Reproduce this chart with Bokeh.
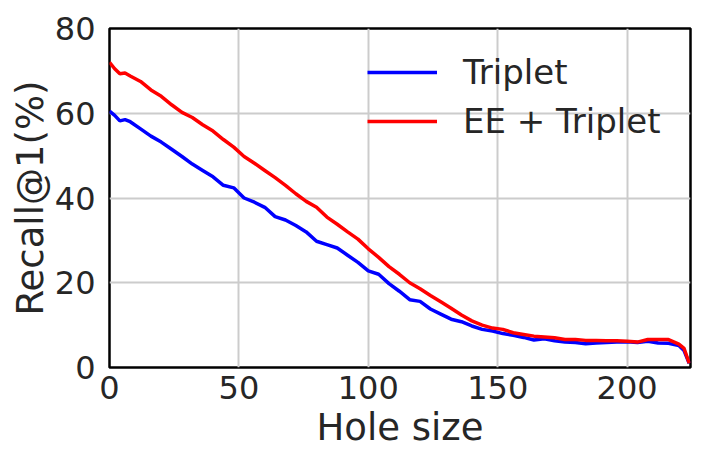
from bokeh.plotting import figure
from bokeh.models import Legend, LegendItem, FixedTicker, Range1d
from bokeh.embed import file_html
from bokeh.resources import INLINE

hole_size = [0, 2, 4, 6, 8, 12, 16, 20, 24, 28, 32, 36, 40, 44, 48, 52, 56, 60, 64, 68,
             72, 76, 80, 84, 88, 92, 96, 100, 104, 108, 112, 116, 120, 124, 128, 132, 136,
             140, 144, 148, 152, 156, 160, 164, 168, 172, 176, 180, 184, 188, 192, 196,
             200, 204, 208, 212, 216, 220, 222, 224]

triplet = [60.5, 59.5, 58.2, 58.5, 58.0, 56.3, 54.6, 53.2, 51.5, 49.8, 48.0, 46.5, 45.0,
           43.0, 42.4, 40.0, 39.0, 37.8, 35.6, 34.8, 33.5, 32.0, 29.8, 29.0, 28.2, 26.5,
           24.8, 22.8, 22.0, 19.8, 18.0, 16.0, 15.6, 13.8, 12.6, 11.4, 10.8, 9.8, 9.0, 8.6,
           8.0, 7.6, 7.1, 6.5, 6.8, 6.3, 6.0, 5.9, 5.6, 5.8, 5.9, 6.0, 6.1, 5.9, 6.2, 5.8,
           5.7, 5.2, 4.0, 1.0]

ee_triplet = [72.0, 70.5, 69.3, 69.5, 68.8, 67.5, 65.5, 64.0, 62.0, 60.2, 59.0, 57.3,
              55.8, 53.8, 52.0, 49.8, 48.2, 46.5, 44.8, 43.0, 41.0, 39.2, 37.8, 35.5, 33.8,
              32.0, 30.3, 28.0, 26.0, 23.8, 22.0, 20.0, 18.6, 17.0, 15.5, 14.0, 12.4, 11.0,
              10.0, 9.3, 9.0, 8.2, 7.8, 7.4, 7.2, 7.0, 6.6, 6.6, 6.4, 6.4, 6.3, 6.3, 6.2,
              6.0, 6.6, 6.6, 6.6, 5.5, 4.5, 1.0]

x_ticks = [0, 50, 100, 150, 200]
y_ticks = [0, 20, 40, 60, 80]

p = figure(width=698, height=460, output_backend="svg", toolbar_location=None,
           x_range=Range1d(0, 224.5), y_range=Range1d(0, 80),
           min_border_left=109, min_border_right=8, min_border_top=28, min_border_bottom=93)

p.background_fill_color = "white"
p.border_fill_color = "white"
p.outline_line_color = "black"
p.outline_line_width = 2.5

txt = "#262626"
for ax in (p.xaxis[0], p.yaxis[0]):
    ax.axis_line_color = None
    ax.major_tick_line_color = None
    ax.minor_tick_line_color = None
    ax.major_label_text_font = "DejaVu Sans"
    ax.major_label_text_font_size = "32px"
    ax.major_label_text_color = txt
    ax.axis_label_text_font = "DejaVu Sans"
    ax.axis_label_text_font_size = "37px"
    ax.axis_label_text_font_style = "normal"
    ax.axis_label_text_color = txt

p.xaxis.ticker = FixedTicker(ticks=x_ticks)
p.yaxis.ticker = FixedTicker(ticks=y_ticks)
p.xaxis.axis_label = "Hole size"
p.yaxis.axis_label = "Recall@1(%)"
p.xaxis.major_label_standoff = 2
p.yaxis.major_label_standoff = 8
p.xaxis.axis_label_standoff = 4
p.yaxis.axis_label_standoff = 0

p.grid.grid_line_color = "#cccccc"
p.grid.grid_line_width = 2

r1 = p.line(hole_size, triplet, line_color="blue", line_width=3.5)
r2 = p.line(hole_size, ee_triplet, line_color="red", line_width=3.5)

legend = Legend(items=[LegendItem(label="Triplet", renderers=[r1]),
                       LegendItem(label="EE + Triplet", renderers=[r2])],
                location=(258, 226))
legend.border_line_color = None
legend.background_fill_alpha = 0
legend.padding = 0
legend.margin = 0
legend.glyph_width = 70
legend.glyph_height = 40
legend.spacing = 9
legend.label_standoff = 26
legend.label_text_font = "DejaVu Sans"
legend.label_text_font_size = "34px"
legend.label_text_color = txt
p.add_layout(legend, "center")

open("out.html", "w").write(file_html(p, INLINE))
